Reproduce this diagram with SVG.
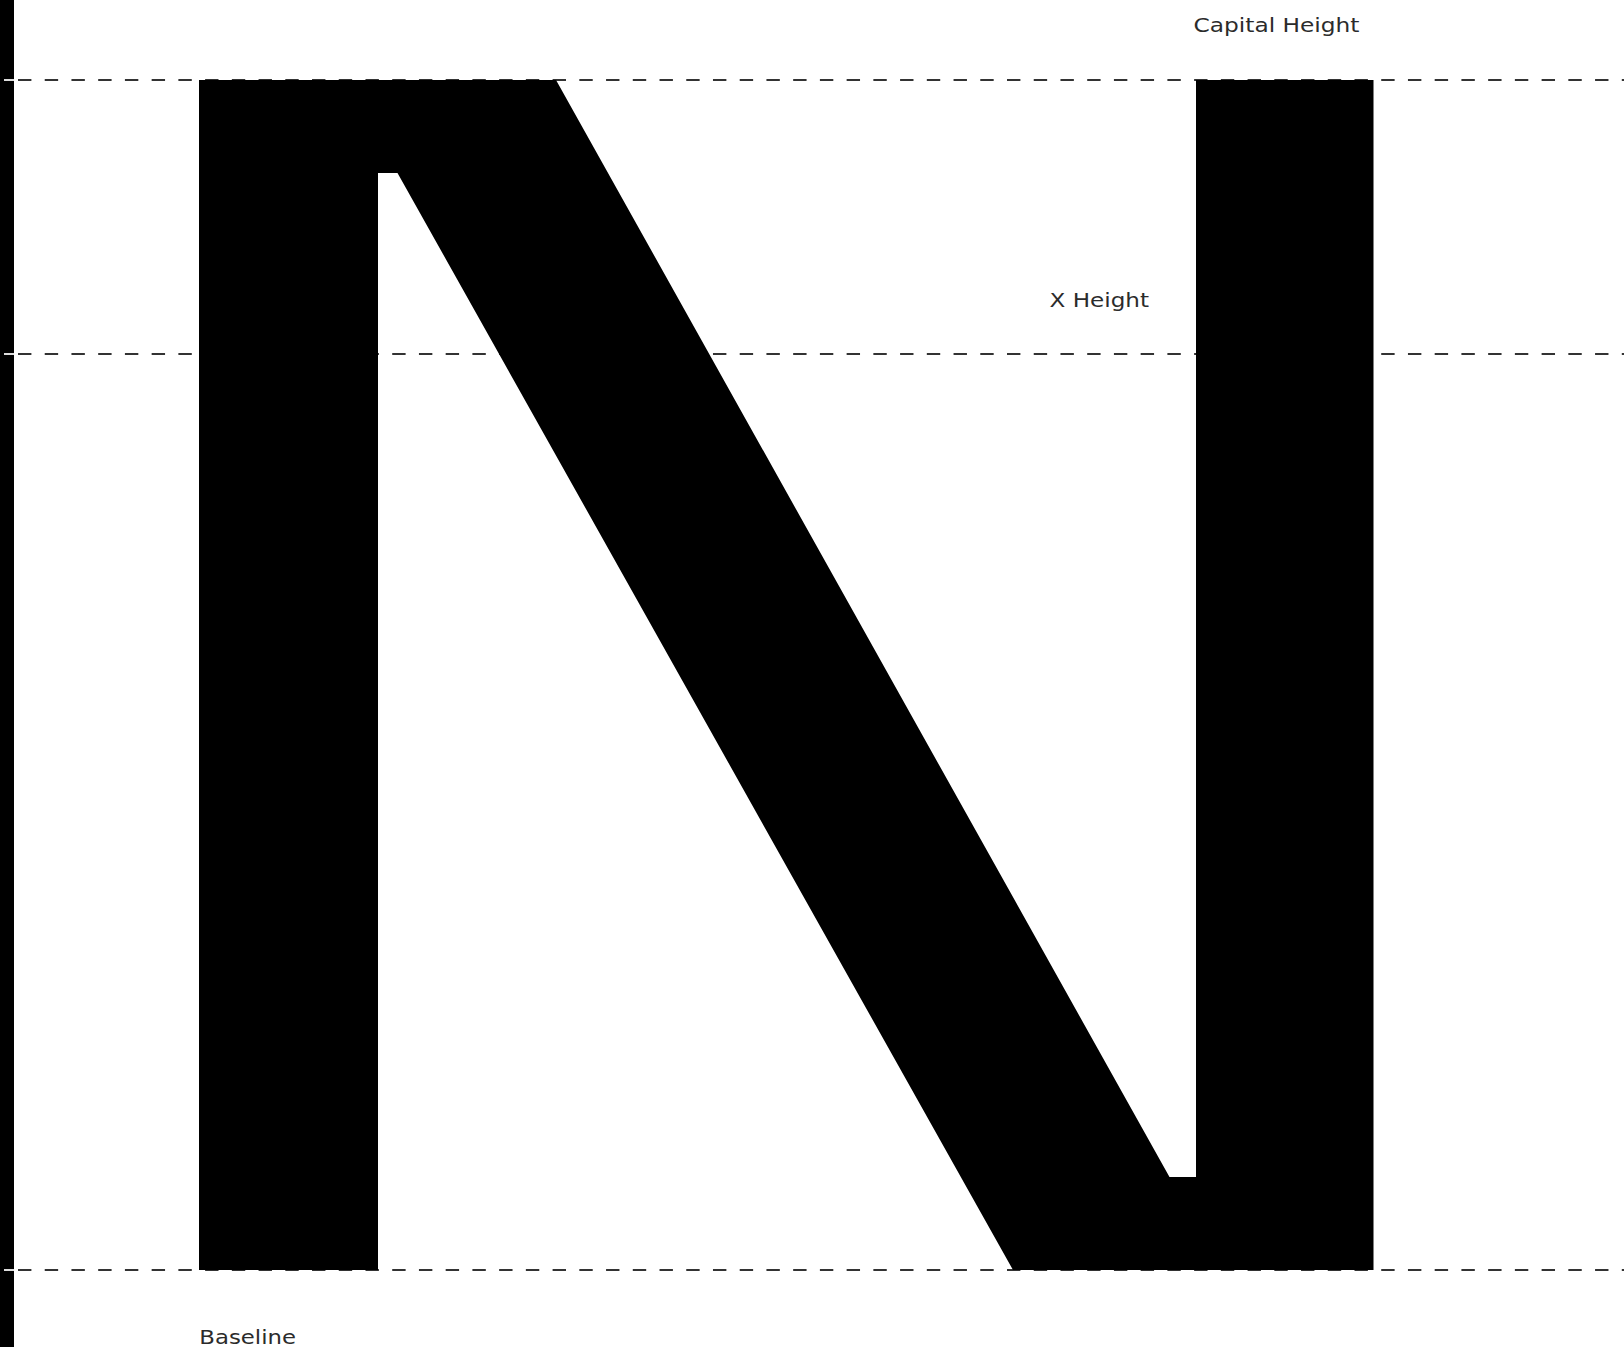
<svg xmlns="http://www.w3.org/2000/svg" width="1624" height="1347" viewBox="0 0 1624 1347">
  <style>
    .guide { stroke: #333333; stroke-width: 2; stroke-dasharray: 13.4 13.33; fill: none; }
    .tick { stroke: #dddddd; stroke-width: 2; }
    .label { font-family: "DejaVu Sans", "Liberation Sans", sans-serif; font-size: 19px; fill: #2b2b2b; }
  </style>
  <rect width="1624" height="1347" fill="#ffffff"/>
  <g id="guides">
    <line class="guide" x1="18" y1="80" x2="1624" y2="80"/>
    <line class="guide" x1="18" y1="354" x2="1624" y2="354"/>
    <line class="guide" x1="18" y1="1270" x2="1624" y2="1270"/>
  </g>
  <g id="glyph-N">
    <path fill="#000000" d="M199,80 L556,80 L1169.5,1177 L1196,1177 L1196,80 L1373.5,80 L1373.5,1270 L1013,1270 L397.5,173 L378,173 L378,1270 L199,1270 Z"/>
  </g>
  <g id="ruler">
    <rect x="0" y="0" width="14" height="1347" fill="#000000"/>
    <line class="tick" x1="4" y1="80" x2="14" y2="80"/>
    <line class="tick" x1="4" y1="354" x2="14" y2="354"/>
    <line class="tick" x1="4" y1="1270" x2="14" y2="1270"/>
  </g>
  <g id="label-capital">
    <text class="label" x="1193.5" y="32.3" textLength="166" lengthAdjust="spacingAndGlyphs">Capital Height</text>
  </g>
  <g id="label-xheight">
    <text class="label" x="1049.5" y="307.3" textLength="99.5" lengthAdjust="spacingAndGlyphs">X Height</text>
  </g>
  <g id="label-baseline">
    <text class="label" x="199.3" y="1344.3" textLength="96.7" lengthAdjust="spacingAndGlyphs">Baseline</text>
  </g>
</svg>
